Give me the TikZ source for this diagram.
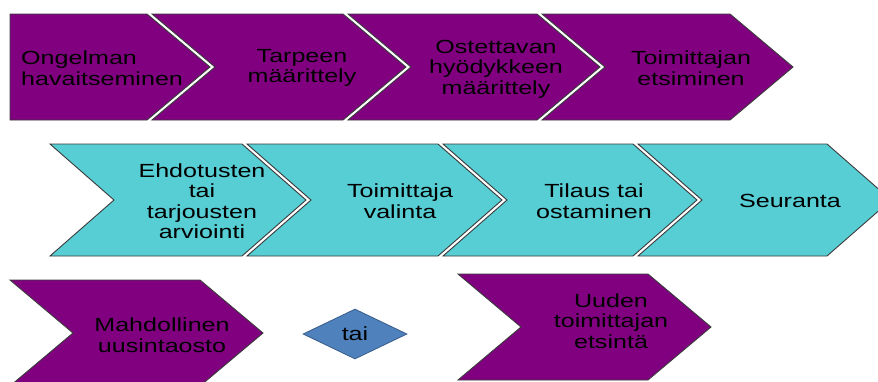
\documentclass[tikz,border=0pt]{standalone}
\usepackage{fontspec}
\setmainfont{Liberation Sans}[FakeStretch=1.32]
\usetikzlibrary{shapes.geometric}

\definecolor{stepPurple}{RGB}{128,0,128}
\definecolor{stepCyan}{RGB}{87,205,212}
\definecolor{orBlue}{RGB}{79,129,189}
\definecolor{orEdge}{RGB}{56,93,138}
\definecolor{edgeGray}{RGB}{60,60,60}

% chevron: #1 style, #2 top-left x, #3 top-right x, #4 middle y, #5 half height, #6 point depth
\newcommand\chevronstep[6]{%
  \draw[#1] (#2,#4-#5) -- (#3,#4-#5) -- (#3+#6,#4) -- (#3,#4+#5)
    -- (#2,#4+#5) -- (#2+#6,#4) -- cycle;}
% pentagon (flat left side), same arguments
\newcommand\pentastep[6]{%
  \draw[#1] (#2,#4-#5) -- (#3,#4-#5) -- (#3+#6,#4) -- (#3,#4+#5)
    -- (#2,#4+#5) -- cycle;}

\tikzset{
  purplestep/.style={fill=stepPurple, draw=edgeGray, line width=0.9pt, line join=miter},
  cyanstep/.style={fill=stepCyan, draw=edgeGray, line width=0.9pt, line join=miter},
  label/.style={font=\fontsize{19}{20.5}\selectfont, text=black, align=center, inner sep=0pt},
}

\begin{document}
\begin{tikzpicture}[x=1pt,y=-1pt]
  \fill[white] (0,0) rectangle (878,381);
  \begin{scope}
    \clip (0,0) rectangle (878,381);
    % first row
    \pentastep{purplestep}{10}{147}{67}{53}{63}
    \chevronstep{purplestep}{152}{343}{67}{53}{63}
    \chevronstep{purplestep}{348}{537}{67}{53}{63}
    \chevronstep{purplestep}{542}{730}{67}{53}{63}
    % second row
    \chevronstep{cyanstep}{50}{242}{200}{56}{64}
    \chevronstep{cyanstep}{247}{438}{200}{56}{64}
    \chevronstep{cyanstep}{443}{633}{200}{56}{64}
    \chevronstep{cyanstep}{638}{827}{200}{56}{64}
    % third row
    \chevronstep{purplestep}{10}{200}{333}{53}{63}
    \chevronstep{purplestep}{458}{648}{327}{53}{63}
  \end{scope}

  \node[diamond, aspect=2.08, minimum width=104pt, minimum height=50pt, inner sep=0pt,
        fill=orBlue, draw=orEdge, line width=0.8pt] (or) at (355,334) {};

  % labels
  \node[label, align=left, anchor=west] (s1) at (21,68) {Ongelman\\havaitseminen};
  \node[label] (s2) at (302,68) {Tarpeen\\määrittely};
  \node[label] (s3) at (496,69) {Ostettavan\\hyödykkeen\\määrittely};
  \node[label] (s4) at (691,68) {Toimittajan\\etsiminen};
  \node[label] (c1) at (202,201) {Ehdotusten\\tai\\tarjousten\\arviointi};
  \node[label] (c2) at (400,201) {Toimittaja\\valinta};
  \node[label] (c3) at (594,201) {Tilaus tai\\ostaminen};
  \node[label] (c4) at (790,201) {Seuranta};
  \node[label] (m1) at (162,335) {Mahdollinen\\uusintaosto};
  \node[label] at (or.center) {tai};
  \node[label] (u1) at (611,321) {Uuden\\toimittajan\\etsintä};

  \pgfresetboundingbox
  \useasboundingbox (0,0) rectangle (878,381);
\end{tikzpicture}
\end{document}
